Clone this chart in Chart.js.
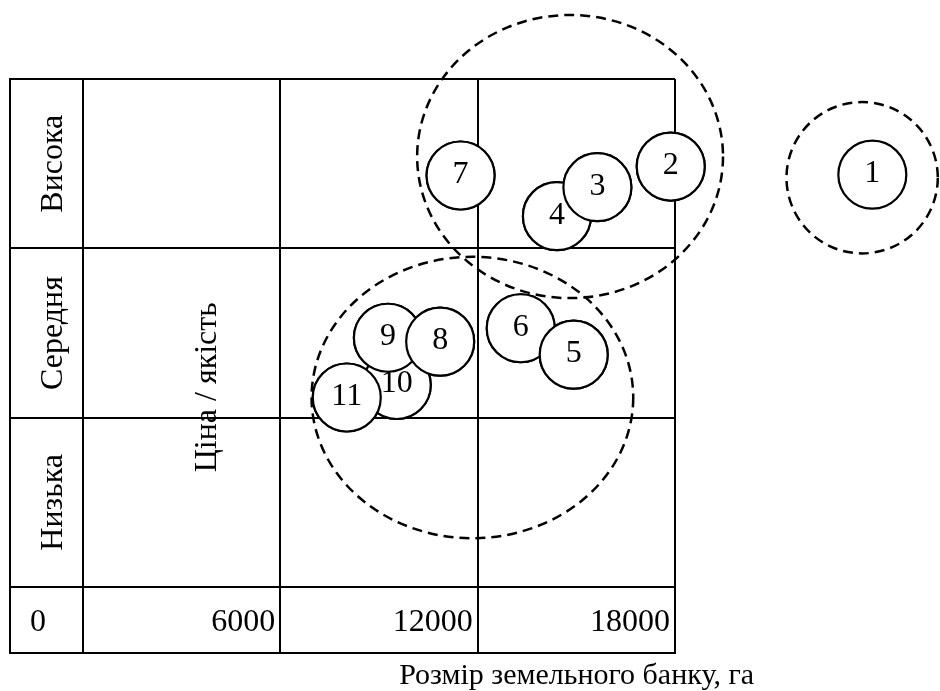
<!DOCTYPE html>
<html lang="uk">
<head>
<meta charset="UTF-8">
<title>Ціна / якість – розмір земельного банку</title>
<script src="https://cdn.jsdelivr.net/npm/chart.js"></script>
<style>
    html, body { margin: 0; padding: 0; background: #fff; }
    #wrap { width: 940px; height: 691px; }
</style>
</head>
<body>
<div id="wrap"><canvas id="matrixChart" width="940" height="691"></canvas></div>
<script>
// rows of the matrix, bottom to top
const rowLabels = ['Низька', 'Середня', 'Висока'];
const xTicks = [0, 6000, 12000, 18000];
const xTitle = 'Розмір земельного банку, га';
const yTitle = 'Ціна / якість';

// companies (drawing order matters: later ones overlap earlier ones)
const bubbleNames = ['1', '2', '4', '3', '7', '6', '5', '10', '9', '8', '11'];
const bubbleX = [24000, 17870, 14410, 15640, 11480, 13310, 14920, 9540, 9270, 10860, 8020];
const bubbleY = [2.435, 2.483, 2.19, 2.361, 2.43, 1.528, 1.372, 1.193, 1.472, 1.449, 1.119];

// dashed groups: centre and half-widths in data units
const groupX = [14810, 11840, 23690];
const groupY = [2.542, 1.119, 2.417];
const groupRx = [4650, 4890, 2300];
const groupRy = [0.836, 0.831, 0.447];

const serif = "'Liberation Serif', 'Times New Roman', serif";

// table frame, dashed groups, numbers in the circles and the rotated texts
const matrixPlugin = {
    id: 'matrix',
    beforeDatasetsDraw(chart) {
        const ctx = chart.ctx;
        const xs = chart.scales.x, ys = chart.scales.y;
        ctx.save();
        ctx.strokeStyle = '#000';
        ctx.lineWidth = 2;
        ctx.beginPath();
        ctx.moveTo(ys.left, chart.chartArea.top - 1);
        ctx.lineTo(ys.left, xs.bottom + 1);
        ctx.moveTo(ys.left - 1, xs.bottom);
        ctx.lineTo(xs.right + 1, xs.bottom);
        ctx.stroke();
        ctx.restore();
    },
    afterDatasetsDraw(chart) {
        const ctx = chart.ctx;
        const xs = chart.scales.x, ys = chart.scales.y;
        const meta = chart.getDatasetMeta(0);

        // the library skips points lying outside the plot area (company 1),
        // so draw the elements again without the area check
        meta.data.forEach(pt => pt.draw(ctx));

        ctx.save();
        ctx.strokeStyle = '#000';
        ctx.lineWidth = 2.5;
        ctx.setLineDash([10, 6]);
        for (let i = 0; i < groupX.length; i++) {
            const cx = xs.getPixelForValue(groupX[i]);
            const cy = ys.getPixelForValue(groupY[i]);
            const rx = Math.abs(xs.getPixelForValue(groupX[i] + groupRx[i]) - cx);
            const ry = Math.abs(ys.getPixelForValue(groupY[i] + groupRy[i]) - cy);
            ctx.beginPath();
            ctx.ellipse(cx, cy, rx, ry, 0, 0, Math.PI * 2);
            ctx.stroke();
        }
        ctx.setLineDash([]);

        // numbers inside the circles
        ctx.fillStyle = '#000';
        ctx.font = '32px ' + serif;
        ctx.textAlign = 'center';
        ctx.textBaseline = 'alphabetic';
        meta.data.forEach((pt, i) => {
            ctx.fillText(bubbleNames[i], pt.x, pt.y + 7.5);
        });
        ctx.restore();
    },
    afterDraw(chart) {
        const ctx = chart.ctx;
        const xs = chart.scales.x, ys = chart.scales.y;
        ctx.save();
        ctx.fillStyle = '#000';

        // row names, rotated, in the first column
        ctx.font = '32px ' + serif;
        ctx.textAlign = 'center';
        ctx.textBaseline = 'alphabetic';
        rowLabels.forEach((lab, i) => {
            const cy = ys.getPixelForValue(i + 0.5);
            ctx.save();
            ctx.translate(ys.left + 52, cy);
            ctx.rotate(-Math.PI / 2);
            ctx.fillText(lab, 0, 0);
            ctx.restore();
        });

        // axis titles
        ctx.font = '32px ' + serif;
        ctx.save();
        ctx.translate(xs.getPixelForValue(4050), ys.getPixelForValue(1.18));
        ctx.rotate(-Math.PI / 2);
        ctx.fillText(yTitle, 0, 0);
        ctx.restore();

        ctx.font = '30px ' + serif;
        ctx.textAlign = 'right';
        ctx.fillText(xTitle, 754, xs.bottom + 31);
        ctx.restore();
    }
};

const points = bubbleX.map((x, i) => ({ x: x, y: bubbleY[i] }));

new Chart(document.getElementById('matrixChart'), {
    type: 'bubble',
    data: {
        datasets: [{
            data: points,
            radius: 34,
            hoverRadius: 0,
            backgroundColor: '#fff',
            borderColor: '#000',
            borderWidth: 2.2,
            hoverBorderWidth: 2.2,
            clip: false
        }]
    },
    options: {
        responsive: false,
        animation: false,
        events: [],
        devicePixelRatio: 1,
        layout: {
            autoPadding: false,
            padding: { left: 10, top: 79, right: 265, bottom: 38 }
        },
        plugins: {
            legend: { display: false },
            tooltip: { enabled: false }
        },
        scales: {
            x: {
                type: 'linear',
                min: 0,
                max: 18000,
                afterBuildTicks: (scale) => { scale.ticks = xTicks.map(v => ({ value: v })); },
                afterFit: (scale) => { scale.height = 66; },
                grid: { color: '#000', lineWidth: 2, tickLength: 66, tickColor: '#000' },
                border: { color: '#000', width: 2 },
                ticks: {
                    autoSkip: false,
                    maxRotation: 0,
                    minRotation: 0,
                    align: 'end',
                    labelOffset: -5,
                    padding: -50,
                    color: '#000',
                    font: { family: serif, size: 32 },
                    callback: (v) => v === 0 ? '0    ' : String(v)
                }
            },
            y: {
                type: 'linear',
                min: 0,
                max: 3,
                afterBuildTicks: (scale) => { scale.ticks = [0, 1, 2, 3].map(v => ({ value: v })); },
                afterFit: (scale) => { scale.width = 73; },
                grid: { color: '#000', lineWidth: 2, tickLength: 73, tickColor: '#000' },
                border: { color: '#000', width: 2 },
                ticks: { display: false }
            }
        }
    },
    plugins: [matrixPlugin]
});
</script>
</body>
</html>
